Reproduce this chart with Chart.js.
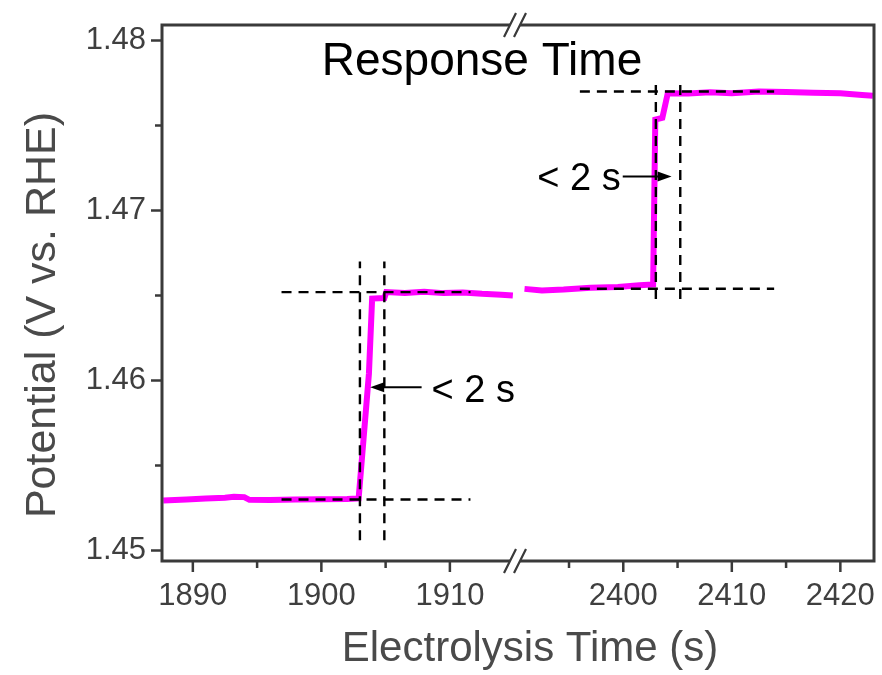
<!DOCTYPE html>
<html>
<head>
<meta charset="utf-8">
<script src="https://cdn.jsdelivr.net/npm/chart.js@4.4.1/dist/chart.umd.min.js"></script>
<style>
  html, body { margin: 0; padding: 0; background: #fff; overflow: hidden; }
  canvas { display: block; }
</style>
</head>
<body>
<canvas id="chart" width="882" height="675"></canvas>
<script>
// potential trace before the axis break (s, V vs. RHE)
const timeLeft = [1887.7, 1889.5, 1891.0, 1892.5, 1893.2, 1894.0, 1894.4, 1896.0, 1898.0, 1900.0, 1902.0, 1902.9,
  1903.7, 1903.95, 1904.9, 1905.05, 1906.5, 1908.0, 1909.5, 1911.0, 1912.5, 1914.0, 1914.9];
const potentialLeft = [1.45294, 1.45300, 1.45306, 1.45310, 1.45316, 1.45314, 1.45298, 1.45297, 1.45300, 1.45302, 1.45303, 1.45306,
  1.46040, 1.46482, 1.46485, 1.46520, 1.46515, 1.46522, 1.46514, 1.46518, 1.46510, 1.46505, 1.46500];

// potential trace after the axis break
const timeRight = [2390.9, 2392.5, 2394.5, 2397.0, 2399.5, 2401.5, 2402.75, 2402.95, 2403.6, 2404.1,
  2406.0, 2408.0, 2410.0, 2412.5, 2415.0, 2417.5, 2420.0, 2422.0, 2423.0];
const potentialRight = [1.46539, 1.46530, 1.46535, 1.46545, 1.46550, 1.46560, 1.46565, 1.47535, 1.47545, 1.47690,
  1.47688, 1.47695, 1.47690, 1.47700, 1.47697, 1.47692, 1.47690, 1.47680, 1.47675];

// dashed guide lines: [t0, v0, t1, v1]
const guidesLeft = [
  [1896.9, 1.4530, 1911.6, 1.4530],
  [1896.9, 1.4652, 1911.6, 1.4652],
  [1903.0, 1.4506, 1903.0, 1.4670],
  [1904.9, 1.4506, 1904.9, 1.4670]
];
const guidesRight = [
  [2396.0, 1.4770, 2413.9, 1.4770],
  [2396.0, 1.4654, 2413.9, 1.4654],
  [2403.0, 1.4648, 2403.0, 1.4776],
  [2405.25, 1.4648, 2405.25, 1.4776]
];

// "< 2 s" arrows: [tail time, tip time, potential]
const arrowLeft = [1907.8, 1903.8, 1.4596];
const arrowRight = [2399.95, 2404.45, 1.4720];

const xLeftTicks = [1890, 1895, 1900, 1905, 1910];
const xLeftLabels = ['1890', '', '1900', '', '1910'];
const xRightTicks = [2395, 2400, 2405, 2410, 2415, 2420];
const xRightLabels = ['', '2400', '', '2410', '', '2420'];
const yTicks = [1.45, 1.455, 1.46, 1.465, 1.47, 1.475, 1.48];
const yLabels = ['1.45', '', '1.46', '', '1.47', '', '1.48'];

const FONT = '"Liberation Sans", Arial, sans-serif';
const AXIS = '#3a3a3a';
const LABEL = '#3f3f3f';

function toPoints(xs, ys) {
    return xs.map((x, i) => ({ x, y: ys[i] }));
}

function guideSets(list, axisId) {
    return list.map(g => ({
        data: [{ x: g[0], y: g[1] }, { x: g[2], y: g[3] }],
        xAxisID: axisId,
        borderColor: '#000',
        borderWidth: 2.4,
        borderDash: [10, 7],
        pointRadius: 0,
        order: 1
    }));
}

// keep label overflow from shrinking the plot area
function noPadding(s) {
    s.paddingLeft = 0;
    s.paddingRight = 0;
    s.paddingTop = 0;
    s.paddingBottom = 0;
}

function xScale(min, max, values, labels) {
    return {
        type: 'linear',
        position: 'bottom',
        stack: 'time',
        stackWeight: 1,
        min,
        max,
        afterBuildTicks: s => { s.ticks = values.map(v => ({ value: v })); },
        afterFit: s => { s.height = 114; noPadding(s); },
        grid: { display: false, drawTicks: false },
        border: { display: false },
        ticks: {
            autoSkip: false,
            maxRotation: 0,
            padding: 20,
            color: LABEL,
            font: { family: FONT, size: 31, lineHeight: 1 },
            callback: (v, i) => labels[i]
        }
    };
}

function drawArrow(ctx, x0, x1, y) {
    const dir = Math.sign(x1 - x0);
    ctx.beginPath();
    ctx.moveTo(x0, y);
    ctx.lineTo(x1 - dir * 10, y);
    ctx.stroke();
    ctx.beginPath();
    ctx.moveTo(x1, y);
    ctx.lineTo(x1 - dir * 14, y - 5);
    ctx.lineTo(x1 - dir * 14, y + 5);
    ctx.closePath();
    ctx.fill();
}

const decorations = {
    id: 'decorations',
    afterDraw(chart) {
        const { ctx, chartArea: a, scales } = chart;
        const { x1, x2, y } = scales;
        const bx = x1.right;

        ctx.save();
        // frame with the break gap
        ctx.strokeStyle = AXIS;
        ctx.lineWidth = 3;
        ctx.beginPath();
        ctx.moveTo(a.left, a.top - 1.5);
        ctx.lineTo(a.left, a.bottom + 1.5);
        ctx.moveTo(a.right, a.top - 1.5);
        ctx.lineTo(a.right, a.bottom + 1.5);
        [a.top, a.bottom].forEach(yy => {
            ctx.moveTo(a.left, yy);
            ctx.lineTo(bx - 8, yy);
            ctx.moveTo(bx + 2, yy);
            ctx.lineTo(a.right, yy);
        });
        ctx.stroke();

        // break marks
        ctx.lineWidth = 2.2;
        ctx.beginPath();
        [a.top, a.bottom].forEach(yy => {
            [-8, 2].forEach(dx => {
                ctx.moveTo(bx + dx - 6, yy + 12);
                ctx.lineTo(bx + dx + 6, yy - 12);
            });
        });
        ctx.stroke();

        // tick marks, pointing outwards
        ctx.lineWidth = 2.5;
        ctx.beginPath();
        [[x1, xLeftLabels], [x2, xRightLabels]].forEach(([s, labels]) => {
            s.ticks.forEach((t, i) => {
                const p = s.getPixelForValue(t.value);
                ctx.moveTo(p, a.bottom);
                ctx.lineTo(p, a.bottom + (labels[i] ? 11 : 7));
            });
        });
        y.ticks.forEach((t, i) => {
            const p = y.getPixelForValue(t.value);
            ctx.moveTo(a.left, p);
            ctx.lineTo(a.left - (yLabels[i] ? 11 : 7), p);
        });
        ctx.stroke();

        // axis titles
        ctx.fillStyle = '#4a4a4a';
        ctx.font = `42px ${FONT}`;
        ctx.textAlign = 'center';
        ctx.textBaseline = 'alphabetic';
        ctx.fillText('Electrolysis Time (s)', 530, 661);
        ctx.save();
        ctx.translate(55, 315);
        ctx.rotate(-Math.PI / 2);
        ctx.font = `43px ${FONT}`;
        ctx.fillText('Potential (V vs. RHE)', 0, 0);
        ctx.restore();

        // panel title
        ctx.fillStyle = '#000';
        ctx.font = `46px ${FONT}`;
        ctx.fillText('Response Time', a.left + 320, a.top + 50);

        // arrows and labels
        ctx.strokeStyle = '#000';
        ctx.lineWidth = 2;
        ctx.font = `38px ${FONT}`;
        const ly = y.getPixelForValue(arrowLeft[2]);
        const lx0 = x1.getPixelForValue(arrowLeft[0]);
        drawArrow(ctx, lx0, x1.getPixelForValue(arrowLeft[1]), ly);
        ctx.textAlign = 'left';
        ctx.fillText('< 2 s', lx0 + 10, ly + 15);

        const ry = y.getPixelForValue(arrowRight[2]);
        const rx0 = x2.getPixelForValue(arrowRight[0]);
        drawArrow(ctx, rx0, x2.getPixelForValue(arrowRight[1]), ry);
        ctx.textAlign = 'right';
        ctx.fillText('< 2 s', rx0 - 2, ry + 13);
        ctx.restore();
    }
};

new Chart(document.getElementById('chart'), {
    type: 'line',
    data: {
        datasets: [
            {
                data: toPoints(timeLeft, potentialLeft),
                xAxisID: 'x1',
                borderColor: '#ff00ff',
                borderWidth: 6,
                pointRadius: 0,
                order: 2
            },
            {
                data: toPoints(timeRight, potentialRight),
                xAxisID: 'x2',
                borderColor: '#ff00ff',
                borderWidth: 6,
                pointRadius: 0,
                order: 2
            },
            ...guideSets(guidesLeft, 'x1'),
            ...guideSets(guidesRight, 'x2')
        ]
    },
    options: {
        responsive: false,
        animation: false,
        layout: { autoPadding: false, padding: { top: 25, right: 8, bottom: 0, left: 0 } },
        plugins: {
            legend: { display: false },
            tooltip: { enabled: false }
        },
        scales: {
            x1: xScale(1887.6, 1915.3, xLeftTicks, xLeftLabels),
            x2: xScale(2390.3, 2423.1, xRightTicks, xRightLabels),
            y: {
                type: 'linear',
                position: 'left',
                min: 1.449382,
                max: 1.480912,
                afterBuildTicks: s => { s.ticks = yTicks.map(v => ({ value: v })); },
                afterFit: s => { s.width = 162; noPadding(s); },
                grid: { display: false, drawTicks: false },
                border: { display: false },
                ticks: {
                    padding: 16,
                    color: LABEL,
                    font: { family: FONT, size: 31, lineHeight: 1 },
                    callback: (v, i) => yLabels[i]
                }
            }
        }
    },
    plugins: [decorations]
});
</script>
</body>
</html>
